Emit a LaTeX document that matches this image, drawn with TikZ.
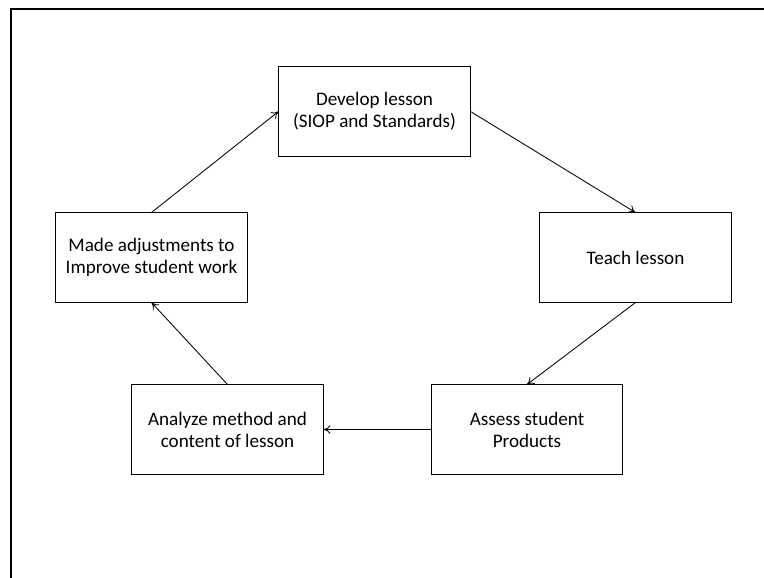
\documentclass[tikz,border=0pt]{standalone}
\usepackage{fontspec}
\setmainfont{Carlito}
\usepackage{tikz}
\usetikzlibrary{arrows.meta}

\begin{document}
\begin{tikzpicture}[x=0.025cm, y=-0.025cm,
    stage/.style={draw, line width=0.7pt, minimum width=4.775cm, minimum height=2.225cm,
        align=center, font=\fontsize{13.6}{15.6}\selectfont},
    flow/.style={-{To[length=5pt,width=6pt]}, line width=0.6pt}]
    \useasboundingbox (0,0) rectangle (764,578);
    \draw[line width=1.5pt] (11,578) -- (11,9) -- (764,9);

    \node[stage] (develop) at (374.5,111.5) {Develop lesson\\(SIOP and Standards)};
    \node[stage] (teach)   at (635.5,257.5) {Teach lesson};
    \node[stage] (assess)  at (527,429.5)   {Assess student\\Products};
    \node[stage] (analyze) at (227.5,429.5) {Analyze method and\\content of lesson};
    \node[stage] (adjust)  at (151.5,257.5) {Made adjustments to\\Improve student work};

    \draw[flow] (develop.east) -- (teach.north);
    \draw[flow] (teach.south) -- (assess.north);
    \draw[flow] (assess.west) -- (analyze.east);
    \draw[flow] (analyze.north) -- (adjust.south);
    \draw[flow] (adjust.north) -- (develop.west);
\end{tikzpicture}
\end{document}
